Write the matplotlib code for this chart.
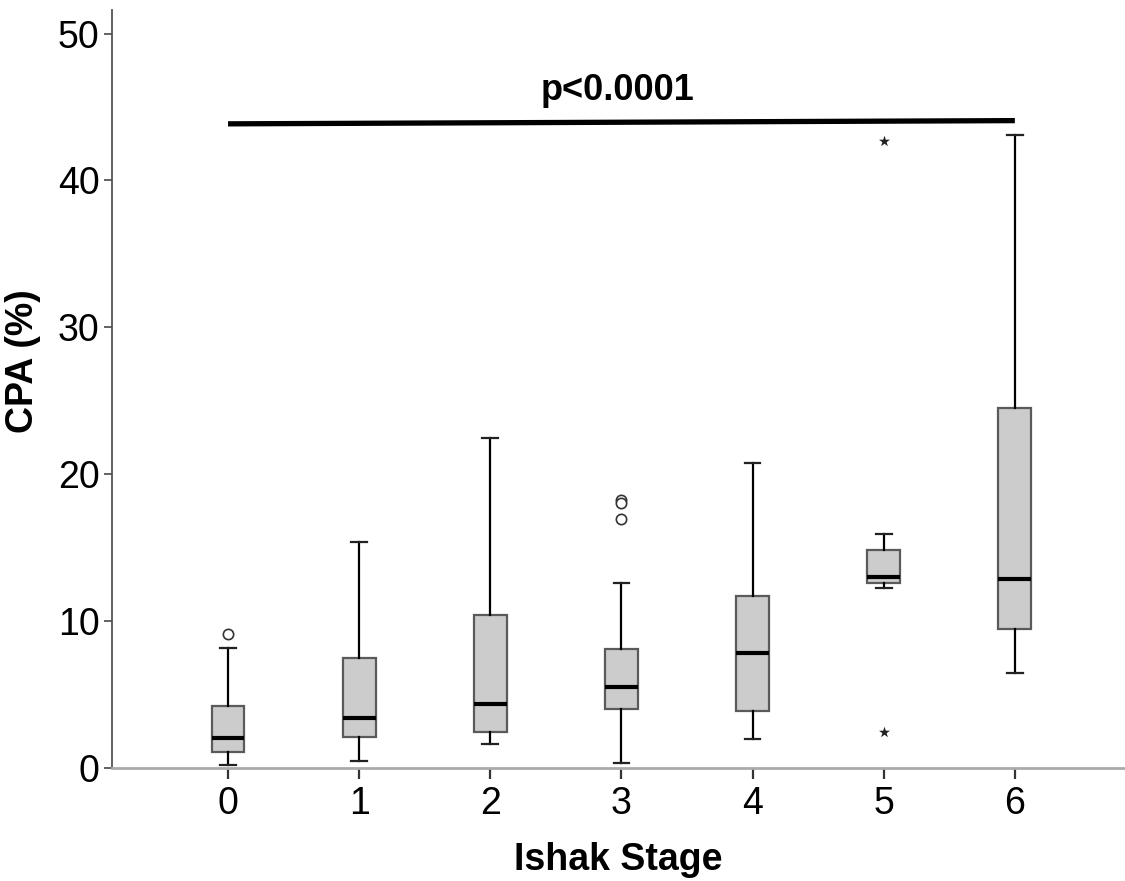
import matplotlib
matplotlib.use('Agg')
import matplotlib.pyplot as plt

plt.rcParams['font.family'] = ['Liberation Sans', 'DejaVu Sans']

# Data (CPA % per Ishak stage)
stages = [0, 1, 2, 3, 4, 5, 6]
whisker_low = [0.23, 0.48, 1.63, 0.36, 1.95, 12.24, 6.47]
q1 = [1.11, 2.09, 2.45, 4.02, 3.86, 12.56, 9.47]
medians = [2.02, 3.41, 4.38, 5.52, 7.86, 12.99, 12.89]
q3 = [4.22, 7.49, 10.44, 8.13, 11.74, 14.87, 24.52]
whisker_high = [8.2, 15.4, 22.46, 12.56, 20.78, 15.94, 43.12]

# outliers (circles) and extremes (stars)
circle_x = [0, 3, 3, 3]
circle_y = [9.13, 18.26, 18.07, 16.96]
star_x = [5, 5]
star_y = [42.71, 2.47]

p_text = "p<0.0001"
p_line_y = [43.85, 44.07]

fig = plt.figure(figsize=(11.25, 8.81), dpi=100)
ax = fig.add_axes([112 / 1125, 1 - 768 / 881, 1 - 112 / 1125, 758 / 881])

stats = []
for i in range(len(stages)):
    stats.append({'med': medians[i], 'q1': q1[i], 'q3': q3[i],
                  'whislo': whisker_low[i], 'whishi': whisker_high[i],
                  'fliers': []})

ax.bxp(stats, positions=stages, widths=0.25, capwidths=0.12,
       showfliers=False, patch_artist=True,
       boxprops=dict(facecolor='#cccccc', edgecolor='#5a5a5a', linewidth=1.6),
       medianprops=dict(color='black', linewidth=3),
       whiskerprops=dict(color='black', linewidth=1.6),
       capprops=dict(color='#222222', linewidth=1.6))

ax.scatter(circle_x, circle_y, s=55, facecolors='white', edgecolors='#333333',
           linewidths=1.2, zorder=3)
ax.scatter(star_x, star_y, s=70, marker='*', color='#222222', linewidths=0, zorder=3)

# significance line and text
ax.plot([stages[0], stages[-1]], p_line_y, color='black', linewidth=3.8,
        solid_capstyle='butt')
ax.text(2.97, 45.5, p_text, fontsize=26, fontweight='bold', ha='center',
        va='baseline')

ax.set_xlim(-0.885, 6.84)
ax.set_ylim(0, 51.6)
ax.set_xticks(stages)
ax.set_xticklabels([str(s) for s in stages])
ax.set_yticks([0, 10, 20, 30, 40, 50])

ax.spines['top'].set_visible(False)
ax.spines['right'].set_visible(False)
ax.spines['left'].set_color('#555555')
ax.spines['left'].set_linewidth(1.3)
ax.spines['bottom'].set_color('#aaaaaa')
ax.spines['bottom'].set_linewidth(2)

ax.tick_params(axis='y', labelsize=27, length=6, width=1.3, color='#555555', pad=3)
ax.tick_params(axis='x', labelsize=27, length=8, width=1.6, color='#333333', pad=5)

ax.set_ylabel("CPA (%)", fontsize=27, fontweight='bold')
ax.yaxis.set_label_coords(-0.07, (768 - 361) / 758)
ax.set_xlabel("Ishak Stage", fontsize=27, fontweight='bold', labelpad=14)

fig.savefig('out.png', dpi=100)
